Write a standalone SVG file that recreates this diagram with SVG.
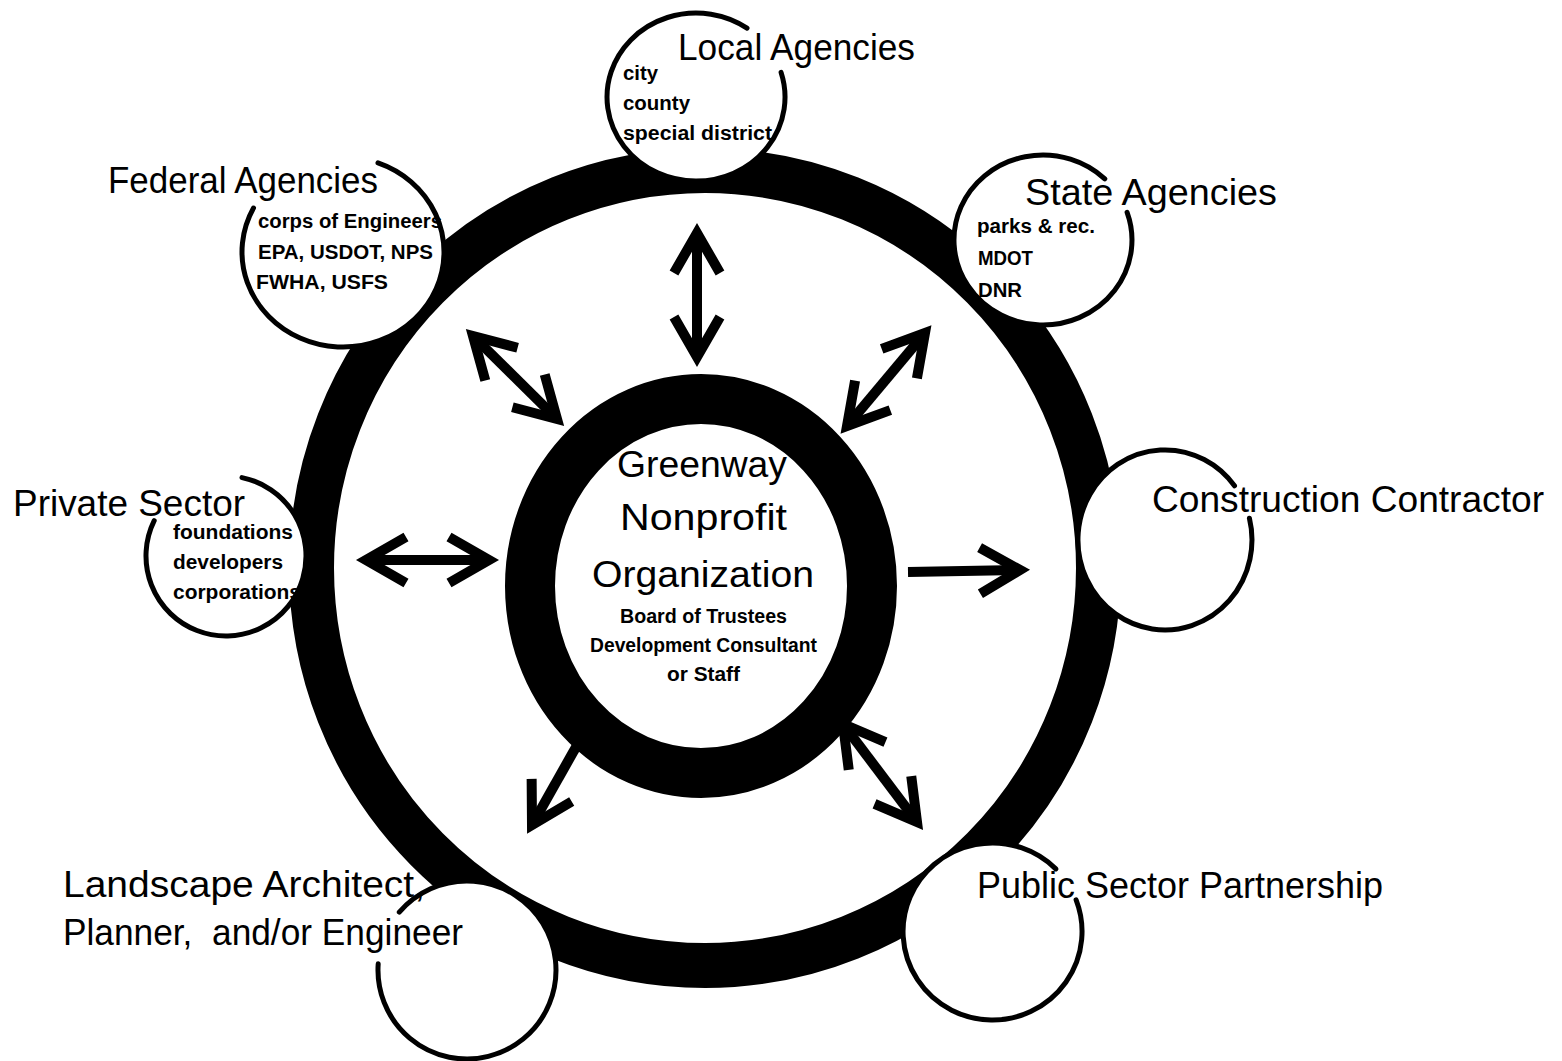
<svg xmlns="http://www.w3.org/2000/svg" width="1562" height="1061" viewBox="0 0 1562 1061">
<style>
.bg{fill:#fff}
.ring{fill:none;stroke:#000}
.arc{fill:none;stroke:#000;stroke-width:5;stroke-linecap:round}
.title{font-family:"Liberation Sans",Arial,sans-serif;font-size:36px;fill:#000;white-space:pre}
.sub{font-family:"Liberation Sans",Arial,sans-serif;font-size:20px;font-weight:bold;fill:#000}
.arrow{fill:none;stroke:#000;stroke-width:10;stroke-linecap:butt}
</style>
<defs>
<marker id="ah" markerUnits="userSpaceOnUse" markerWidth="90" markerHeight="90" viewBox="-60 -45 90 90" refX="0" refY="0" orient="auto-start-reverse">
<polyline points="-40,-23 0,0 -40,23" fill="none" stroke="#000" stroke-width="10" stroke-linejoin="miter" stroke-linecap="butt"/>
</marker>
</defs>
<rect class="bg" x="0" y="0" width="1562" height="1061"/>

<g id="outer-ring">
<ellipse class="ring" cx="705" cy="568" rx="393.5" ry="397.5" stroke-width="45"/>
</g>

<g id="local-agencies">
<ellipse cx="696" cy="97" rx="89" ry="84" fill="#fff"/>
<path class="arc" d="M781.1,72.4 A89,84 0 1 1 747,28.2"/>
<text class="title" x="678" y="60" textLength="237" lengthAdjust="spacingAndGlyphs">Local Agencies</text>
<text class="sub" x="623" y="80" textLength="35" lengthAdjust="spacingAndGlyphs">city</text>
<text class="sub" x="623" y="110" textLength="67" lengthAdjust="spacingAndGlyphs">county</text>
<text class="sub" x="623" y="140" textLength="149" lengthAdjust="spacingAndGlyphs">special district</text>
</g>

<g id="federal-agencies">
<ellipse cx="343" cy="252" rx="101" ry="95" fill="#fff"/>
<path class="arc" d="M378,162.9 A101,95 0 1 1 253.5,208"/>
<text class="title" x="108" y="193" textLength="270" lengthAdjust="spacingAndGlyphs">Federal Agencies</text>
<text class="sub" x="258" y="228" textLength="184" lengthAdjust="spacingAndGlyphs">corps of Engineers</text>
<text class="sub" x="258" y="259" textLength="175" lengthAdjust="spacingAndGlyphs">EPA, USDOT, NPS</text>
<text class="sub" x="256" y="289" textLength="132" lengthAdjust="spacingAndGlyphs">FWHA, USFS</text>
</g>

<g id="state-agencies">
<ellipse cx="1043" cy="240" rx="89" ry="85" fill="#fff"/>
<path class="arc" d="M1127.1,212.3 A89,85 0 1 1 1104.8,178.9"/>
<text class="title" x="1025" y="205" textLength="252" lengthAdjust="spacingAndGlyphs">State Agencies</text>
<text class="sub" x="977" y="233" textLength="118" lengthAdjust="spacingAndGlyphs">parks &amp; rec.</text>
<text class="sub" x="978" y="265" textLength="55" lengthAdjust="spacingAndGlyphs">MDOT</text>
<text class="sub" x="978" y="297" textLength="44" lengthAdjust="spacingAndGlyphs">DNR</text>
</g>

<g id="private-sector">
<circle cx="226" cy="556" r="80" fill="#fff"/>
<path class="arc" d="M242,477.6 A80,80 0 1 1 154.2,520.7"/>
<text class="title" x="13" y="516" textLength="232" lengthAdjust="spacingAndGlyphs">Private Sector</text>
<text class="sub" x="173" y="539" textLength="120" lengthAdjust="spacingAndGlyphs">foundations</text>
<text class="sub" x="173" y="569" textLength="110" lengthAdjust="spacingAndGlyphs">developers</text>
<text class="sub" x="173" y="599" textLength="128" lengthAdjust="spacingAndGlyphs">corporations</text>
</g>

<g id="construction-contractor">
<ellipse cx="1165" cy="540" rx="87" ry="90" fill="#fff"/>
<path class="arc" d="M1249.4,518.2 A87,90 0 1 1 1234.5,485.8"/>
<text class="title" x="1152" y="512" textLength="392" lengthAdjust="spacingAndGlyphs">Construction Contractor</text>
</g>

<g id="public-sector-partnership">
<ellipse cx="992.5" cy="931.5" rx="89.5" ry="88.5" fill="#fff"/>
<path class="arc" d="M1076.1,899.8 A89.5,88.5 0 1 1 1055.8,868.9"/>
<text class="title" x="977" y="898" textLength="406" lengthAdjust="spacingAndGlyphs">Public Sector Partnership</text>
</g>

<g id="landscape-architect">
<circle cx="467" cy="970" r="89" fill="#fff"/>
<path class="arc" d="M399.3,912.2 A89,89 0 1 1 378.2,963.8"/>
<text class="title" x="63" y="897" textLength="362" lengthAdjust="spacingAndGlyphs">Landscape Architect,</text>
<text class="title" x="63" y="945" textLength="400" lengthAdjust="spacingAndGlyphs">Planner,  and/or Engineer</text>
</g>

<g id="greenway-nonprofit">
<ellipse cx="701" cy="586" rx="171" ry="187" fill="#fff" stroke="#000" stroke-width="50"/>
<text class="title" x="617" y="477" textLength="170" lengthAdjust="spacingAndGlyphs">Greenway</text>
<text class="title" x="620" y="530" textLength="167" lengthAdjust="spacingAndGlyphs">Nonprofit</text>
<text class="title" x="592" y="587" textLength="222" lengthAdjust="spacingAndGlyphs">Organization</text>
<text class="sub" x="620" y="623" textLength="167" lengthAdjust="spacingAndGlyphs">Board of Trustees</text>
<text class="sub" x="590" y="652" textLength="227" lengthAdjust="spacingAndGlyphs">Development Consultant</text>
<text class="sub" x="667" y="681" textLength="73" lengthAdjust="spacingAndGlyphs">or Staff</text>
</g>

<g id="connectors">
<line class="arrow" x1="697" y1="233" x2="697" y2="357" marker-start="url(#ah)" marker-end="url(#ah)"/>
<line class="arrow" x1="925" y1="333" x2="847" y2="426" marker-start="url(#ah)" marker-end="url(#ah)"/>
<line class="arrow" x1="473" y1="336" x2="557" y2="419" marker-start="url(#ah)" marker-end="url(#ah)"/>
<line class="arrow" x1="366" y1="560" x2="489" y2="560" marker-start="url(#ah)" marker-end="url(#ah)"/>
<line class="arrow" x1="908" y1="572" x2="1020" y2="570" marker-end="url(#ah)"/>
<line class="arrow" x1="580" y1="740" x2="532" y2="825" marker-end="url(#ah)"/>
<line class="arrow" x1="843" y1="724" x2="917" y2="822" marker-start="url(#ah)" marker-end="url(#ah)"/>
</g>
</svg>
